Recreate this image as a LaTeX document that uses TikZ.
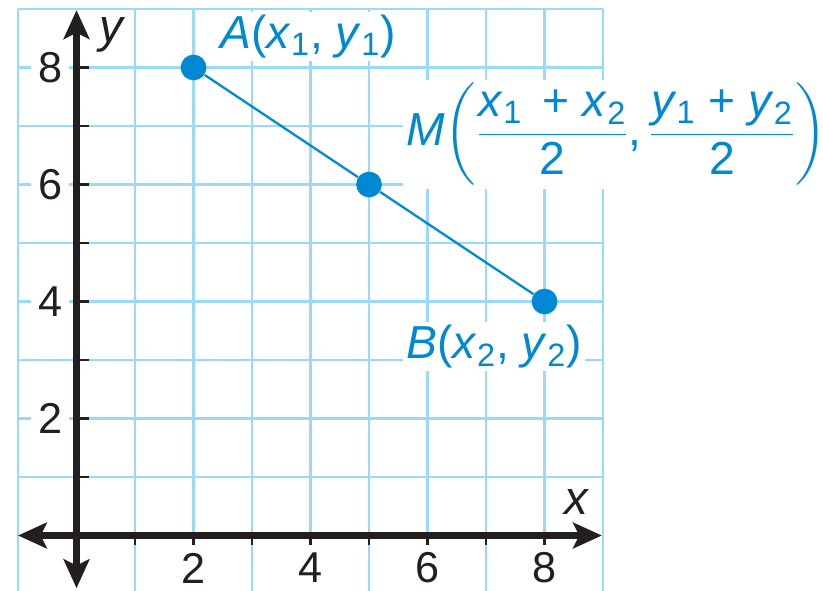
\documentclass[tikz,border=0pt]{standalone}
\usepackage{amsmath}
\usepackage{fontspec}
\setmainfont{Liberation Sans}
\usetikzlibrary{arrows.meta}
\definecolor{gridblue}{RGB}{152,218,248}
\definecolor{ptblue}{RGB}{0,136,210}
\definecolor{ink}{RGB}{35,31,32}
\newcommand{\vsub}[2]{\textit{#1}\textsubscript{\upshape #2}}
\begin{document}
\begin{tikzpicture}[x=1cm,y=1cm,
  gridline/.style={gridblue, line width=1.15pt},
  axisline/.style={ink, line width=3.3pt,
    {Stealth[length=14pt,width=12.5pt,inset=3pt]}-{Stealth[length=14pt,width=12.5pt,inset=3pt]}},
  tickmark/.style={ink, line width=1.4pt},
  numlab/.style={fill=white, text=ink, font=\fontsize{21}{25}\selectfont, inner sep=3.5pt},
  xnumlab/.style={numlab, inner ysep=9pt},
  axislab/.style={text=ink, font=\fontsize{23}{28}\selectfont\itshape, inner sep=0pt},
  ptlab/.style={fill=white, text=ptblue, font=\fontsize{22.5}{27}\selectfont, inner sep=1.5pt, anchor=base west},
  dot/.style={circle, fill=ptblue, inner sep=0pt, minimum size=12.5pt},
  seg/.style={ptblue, line width=1.1pt}
]
\useasboundingbox (-1.308,-0.932) rectangle (12.76,9.154);
% grid
\foreach \i in {-1,1,2,...,9} \draw[gridline] (\i,-1) -- (\i,9);
\foreach \j in {1,...,9} \draw[gridline] (-1,\j) -- (9,\j);
% number labels
\foreach \j in {2,4,6,8} \node[numlab] (ny\j) at (-0.45,\j) {\j};
\foreach \i in {2,4,6,8} \node[xnumlab] (nx\i) at (\i,-0.556) {\i};
% point labels
\node[ptlab] (Alab) at (2.40,8.33) {\textit{A}(\vsub{x}{1}, \vsub{y}{1})};
\node[ptlab] (Blab) at (5.58,3.03) {\textit{B}(\vsub{x}{2}, \vsub{y}{2})};
\node[ptlab] (Mlab) at (5.58,6.675) {\textit{M}$\left(\dfrac{\text{\vsub{x}{1}\, + \vsub{x}{2}}}{\text{2}}\text{,}\,\dfrac{\text{\vsub{y}{1} + \vsub{y}{2}}}{\text{2}}\right)$};
% ticks
\foreach \k in {1,...,8} {
  \draw[tickmark] (0,\k) -- (0.21,\k);
  \draw[tickmark] (\k,0) -- (\k,-0.16);
}
% axes
\coordinate (xl) at (-1,0);
\coordinate (xr) at (8.98,0);
\coordinate (yb) at (0,-0.9);
\coordinate (yt) at (0,8.98);
\draw[axisline] (xl) -- (xr);
\draw[axisline] (yb) -- (yt);
\node[axislab] (ylab) at (0.59,8.56) {y};
\node[axislab] (xlab) at (8.55,0.57) {x};
% points
\node[dot] (A) at (2,8) {};
\node[dot] (M) at (5,6) {};
\node[dot] (B) at (8,4) {};
\draw[seg] (A) -- (M);
\draw[seg] (M) -- (B);
\end{tikzpicture}
\end{document}
